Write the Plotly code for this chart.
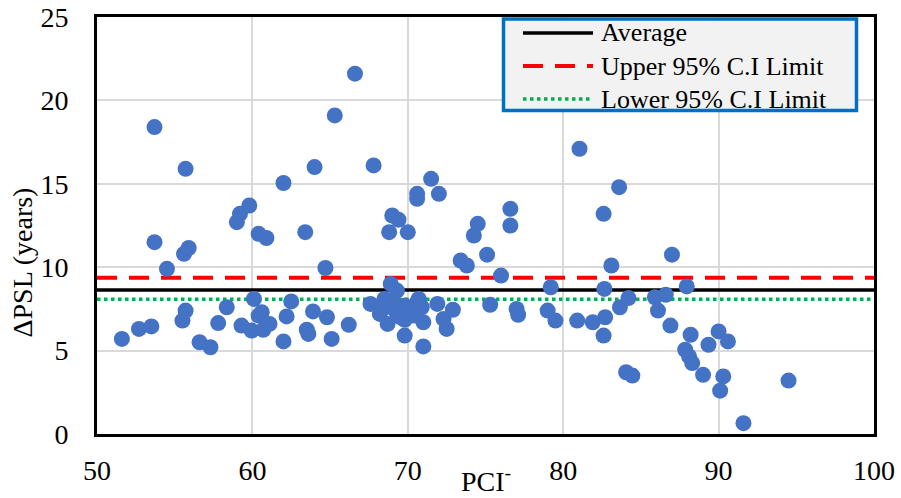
import plotly.graph_objects as go

# PCI- values (x) and ΔPSL (years) values (y)
pci = [51.6, 52.7, 53.5, 53.7, 53.7, 54.5, 55.5, 55.7, 55.6, 55.9, 55.7, 56.6, 57.3, 57.8, 58.35,
       59.0, 59.2, 59.8, 59.3, 60.1, 59.95, 60.4, 60.9, 60.6, 60.4, 60.7, 61.1, 62.0, 62.0, 62.2,
       62.5, 63.4, 63.5, 63.6, 63.9, 64.0, 64.7, 64.8, 65.1, 65.3, 66.2, 66.6, 67.6, 67.8,
       68.8, 69.0, 69.4, 70.0, 70.6, 70.6, 71.5, 72.0, 68.9, 69.3, 68.5, 70.7,
       68.2, 68.7, 68.5, 69.2, 69.55, 69.8, 69.8, 70.2, 70.4, 70.6, 71.0, 69.0, 70.9,
       69.8, 71.0, 71.9, 72.9, 72.3, 72.5, 73.4, 73.8, 74.25, 74.5, 75.1, 75.3, 76.0, 76.6, 76.6,
       77.0, 77.1, 81.05, 83.6, 82.6, 83.1, 87.0, 79.2, 82.65, 87.95, 79.0, 79.5, 80.9, 81.9,
       82.7, 82.6, 83.65, 84.2, 85.9, 86.6, 86.1, 86.9, 88.2, 87.85, 88.1, 88.3, 89.35, 90.0,
       90.6, 89.0, 90.3, 90.1, 84.05, 84.45, 91.6, 94.5]
dpsl = [5.7, 6.3, 6.45, 18.4, 11.5, 9.9, 6.8, 7.4, 10.8, 11.15, 15.9, 5.5, 5.2, 6.65, 7.6,
        12.7, 13.2, 13.7, 6.5, 8.1, 6.2, 12.0, 11.75, 7.3, 7.1, 6.25, 6.6, 15.05, 5.55, 7.05,
        7.95, 12.1, 6.25, 6.0, 7.35, 16.0, 9.95, 7.0, 5.7, 19.1, 6.55, 21.6, 7.8, 16.1,
        12.1, 13.1, 12.85, 12.1, 14.4, 14.1, 15.3, 14.4, 9.0, 8.6, 8.1, 8.1,
        7.2, 6.6, 7.6, 7.4, 7.0, 6.85, 7.7, 7.5, 7.1, 7.9, 6.7, 7.9, 7.6,
        5.9, 5.25, 7.8, 7.45, 6.9, 6.3, 10.4, 10.1, 11.9, 12.6, 10.75, 7.75, 9.5, 13.5, 12.5,
        7.5, 7.15, 17.1, 14.8, 13.2, 10.1, 10.75, 8.8, 8.7, 8.85, 7.4, 6.8, 6.8, 6.7,
        7.0, 5.9, 7.6, 8.15, 8.2, 8.35, 7.4, 6.5, 5.95, 5.05, 4.65, 4.25, 5.35, 6.15,
        5.55, 3.55, 3.45, 2.6, 3.7, 3.5, 0.65, 3.2]

x_range = [50, 100]
average = 8.63
upper_ci = 9.37
lower_ci = 8.08

line_names = ["Average", "Upper 95% C.I Limit", "Lower 95% C.I Limit"]
line_values = [average, upper_ci, lower_ci]
line_styles = [dict(color="black", width=3.5),
               dict(color="#FF0000", width=4, dash="20px,12px"),
               dict(color="#00B050", width=3.5, dash="dot")]

FONT = "Liberation Serif"

# layout geometry (pixels)
W, H = 901, 498
ML, MR, MT, MB = 97, 27, 17, 64
PW, PH = W - ML - MR, H - MT - MB


def px_x(px):
    return (px - ML) / PW


def px_y(py):
    return (H - MB - py) / PH


fig = go.Figure()
for name, val, style in zip(line_names, line_values, line_styles):
    fig.add_trace(go.Scatter(x=x_range, y=[val, val], mode="lines", name=name,
                             line=style, showlegend=False))
fig.add_trace(go.Scatter(x=pci, y=dpsl, mode="markers", showlegend=False,
                         marker=dict(color="#4472C4", size=16, line=dict(width=0))))

# legend box drawn to match the reference's compact Excel-style legend
shapes = [dict(type="rect", xref="paper", yref="paper",
               x0=px_x(503.5), x1=px_x(856.5), y0=px_y(19), y1=px_y(110.5),
               fillcolor="#F2F2F2", line=dict(color="#0070C0", width=3.5), layer="above")]
annotations = []
row_y = [33, 66, 99]
for name, style, ry in zip(line_names, line_styles, row_y):
    shapes.append(dict(type="line", xref="paper", yref="paper",
                       x0=px_x(523), x1=px_x(593), y0=px_y(ry), y1=px_y(ry),
                       line=style, layer="above"))
    annotations.append(dict(text=name, xref="paper", yref="paper", x=px_x(599), y=px_y(ry),
                            xanchor="left", yanchor="middle", showarrow=False,
                            font=dict(family=FONT, size=26, color="black")))

annotations += [
    dict(text="PCI<sup>-</sup>", xref="paper", yref="paper", x=0.5, y=0, xanchor="center",
         yanchor="middle", yshift=-45, showarrow=False, font=dict(family=FONT, size=28)),
    dict(text="ΔPSL (years)", xref="paper", yref="paper", x=0, y=0.5, xanchor="center",
         yanchor="middle", xshift=-75, yshift=-37, textangle=-90, showarrow=False,
         font=dict(family=FONT, size=28)),
]

fig.update_layout(
    width=W, height=H,
    margin=dict(l=ML, r=MR, t=MT, b=MB),
    paper_bgcolor="white", plot_bgcolor="white",
    font=dict(family=FONT, size=28, color="black"),
    showlegend=False,
    xaxis=dict(range=x_range, dtick=10, tick0=50, showgrid=True, gridcolor="#D9D9D9", gridwidth=1.5,
               showline=True, linecolor="black", linewidth=3, mirror=True, ticks="",
               ticklabelstandoff=9, zeroline=False, automargin=False,
               tickfont=dict(family=FONT, size=28, color="black")),
    yaxis=dict(range=[0, 25], dtick=5, tick0=0, showgrid=True, gridcolor="#D9D9D9", gridwidth=1.5,
               showline=True, linecolor="black", linewidth=3, mirror=True, ticks="",
               ticklabelstandoff=20, zeroline=False, automargin=False,
               tickfont=dict(family=FONT, size=28, color="black")),
    shapes=shapes,
    annotations=annotations,
)

fig.write_html("out.html")
